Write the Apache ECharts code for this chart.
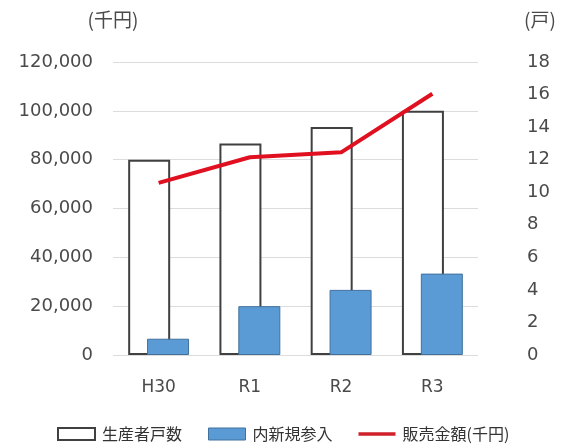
<!DOCTYPE html>
<html>
<head>
<meta charset="utf-8">
<script src="https://cdn.jsdelivr.net/npm/echarts@6/dist/echarts.min.js"></script>
<style>
  html, body { margin: 0; padding: 0; background: #fff; }
  #chart { width: 577px; height: 445px; }
</style>
</head>
<body>
<div id="chart"></div>
<script>
// 年度別の生産者戸数・新規参入・販売金額
const categories = ['H30', 'R1', 'R2', 'R3'];
const producers = [12, 13, 14, 15];          // 生産者戸数 (戸)
const newEntrants = [1, 3, 4, 5];            // 内新規参入 (戸)
const sales = [70500, 81000, 83000, 107000]; // 販売金額 (千円)

const cjk = '"Noto Sans CJK JP", "Noto Sans", sans-serif';
const num = '"DejaVu Sans", "Noto Sans", sans-serif';
const textColor = '#4a4a4a';

const chart = echarts.init(document.getElementById('chart'));
chart.setOption({
  animation: false,
  textStyle: { fontFamily: cjk },
  grid: { left: 113, right: 99, top: 62, bottom: 90 },
  legend: {
    bottom: -2,
    left: 52,
    itemGap: 26,
    itemWidth: 37,
    itemHeight: 12,
    textStyle: { fontSize: 16, color: '#333', fontFamily: cjk, padding: [0, 0, 0, 2] },
    data: [
      { name: '生産者戸数', icon: 'rect', itemStyle: { color: '#fff', borderColor: '#404040', borderWidth: 2 } },
      { name: '内新規参入', icon: 'rect', itemStyle: { color: '#5b9bd5', borderColor: '#41719c', borderWidth: 1 } },
      { name: '販売金額(千円)', icon: 'path://M0,0H40V4H0Z', itemStyle: { color: '#d0202a' } }
    ]
  },
  xAxis: {
    type: 'category',
    data: categories,
    axisLine: { show: false },
    axisTick: { show: false },
    axisLabel: { color: textColor, fontSize: 17, fontFamily: num, margin: 24 }
  },
  yAxis: [
    {
      type: 'value',
      name: '(千円)',
      nameLocation: 'end',
      nameGap: 33,
      nameTextStyle: { color: textColor, fontSize: 19, align: 'center', padding: [0, 0, 0, 0] },
      min: 0, max: 120000, interval: 20000,
      axisLabel: {
        color: textColor, fontSize: 18, fontFamily: num, margin: 20,
        formatter: v => v.toLocaleString('en-US')
      },
      axisLine: { show: false },
      axisTick: { show: false },
      splitLine: { lineStyle: { color: '#dcdcdc', width: 1 } }
    },
    {
      type: 'value',
      name: '(戸)',
      nameLocation: 'end',
      nameGap: 33,
      nameTextStyle: { color: textColor, fontSize: 19, align: 'left', padding: [0, 0, 0, 46] },
      min: 0, max: 18, interval: 2,
      axisLabel: { color: textColor, fontSize: 18, fontFamily: num, margin: 49, align: 'left' },
      axisLine: { show: false },
      axisTick: { show: false },
      splitLine: { show: false }
    }
  ],
  series: [
    {
      name: '生産者戸数',
      type: 'bar',
      yAxisIndex: 1,
      data: producers,
      barWidth: 42,
      barGap: '-55%',
      itemStyle: { color: '#fff', borderColor: '#404040', borderWidth: 2 }
    },
    {
      name: '内新規参入',
      type: 'bar',
      yAxisIndex: 1,
      data: newEntrants,
      barWidth: 42,
      itemStyle: { color: '#5b9bd5', borderColor: '#41719c', borderWidth: 1 }
    },
    {
      name: '販売金額(千円)',
      type: 'line',
      yAxisIndex: 0,
      data: sales,
      symbol: 'none',
      lineStyle: { color: '#e01020', width: 4 },
      itemStyle: { color: '#e01020' }
    }
  ]
});
</script>
</body>
</html>
